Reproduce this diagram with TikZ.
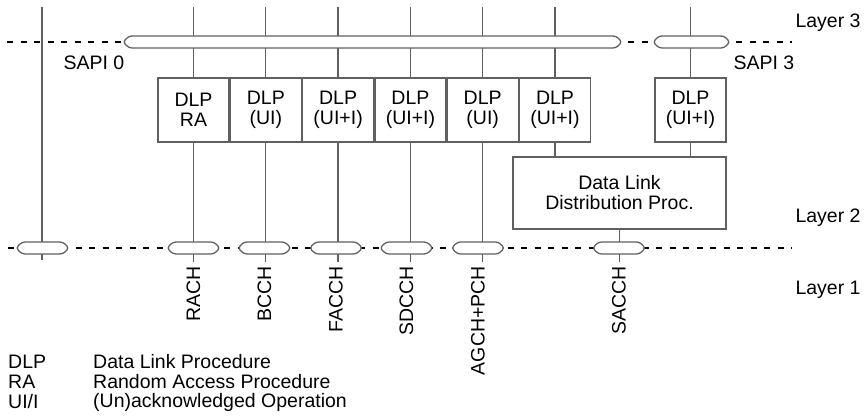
\documentclass[tikz,border=0pt]{standalone}
\usepackage{fontspec}
\setmainfont{Liberation Sans}
\usepackage{tikz}
\usetikzlibrary{positioning, calc}
\definecolor{wiregray}{HTML}{606060}

\begin{document}
\begin{tikzpicture}[x=1pt, y=-1pt, font=\fontsize{19.5}{20}\selectfont,
    wire/.style={wiregray, line width=1.3pt},
    sapline/.style={black, line width=2.2pt, dash pattern=on 6pt off 7.5pt},
    bus/.style={draw=wiregray, fill=white, line width=1.3pt, rounded corners=3pt},
    dlp/.style={draw=wiregray, line width=1.3pt, fill=white, minimum width=71pt,
      minimum height=64pt, align=center, inner sep=0pt},
    chan/.style={rotate=90, anchor=east, inner sep=4pt}]
  \useasboundingbox (0,0) rectangle (865,419);

  % Bezugspunkte
  \coordinate (topref) at (0,7);
  \coordinate (sapi0) at (7,42);
  \coordinate (sapiend) at (792,42);
  \coordinate (phy0) at (8,248);
  \coordinate (phyend) at (792,248);

  % Data-Link-Prozeduren
  \node[dlp] (d1) at (193.5,110) {DLP\\RA};
  \node[dlp, right=0pt of d1] (d2) {DLP\\(UI)};
  \node[dlp, right=0pt of d2] (d3) {DLP\\(UI+I)};
  \node[dlp, right=0pt of d3] (d4) {DLP\\(UI+I)};
  \node[dlp, right=0pt of d4] (d5) {DLP\\(UI)};
  \node[dlp, right=0pt of d5] (d6) {DLP\\(UI+I)};
  \node[dlp] (d7) at (690.5,110) {DLP\\(UI+I)};
  \node[dlp, minimum width=213pt, minimum height=72pt] (dist) at (619.5,193)
    {Data Link\\Distribution Proc.};

  % Kanaele (Layer 1)
  \foreach \n/\x/\txt in {1/193.5/RACH, 2/264.5/BCCH, 3/336/FACCH,
      4/406.5/SDCCH, 5/478/AGCH+PCH}
    \node[chan] (ch\n) at (\x,262) {\txt};
  \node[chan] (ch6) at (619,262) {SACCH};
  \coordinate (left) at (42,260);

  % Verbindungen
  \foreach \n in {1,...,7}
    \draw[wire] (d\n.north) -- (d\n.north |- topref);
  \foreach \n in {1,...,5}
    \draw[wire] (d\n.south) -- (d\n.south |- ch\n.east);
  \draw[wire] (d6.south) -- (d6.south |- dist.north);
  \draw[wire] (d7.south) -- (d7.south |- dist.north);
  \draw[wire] (dist.south) -- (dist.south |- ch6.east);
  \draw[wire] (left) -- (left |- topref);

  % SAPI-Linien
  \draw[sapline] (sapi0) -- (sapiend);
  \draw[sapline] (phy0) -- (phyend);

  % Busse
  \foreach \a/\b in {123/622, 653/730}
    \draw[bus] (\a,42) -- (\a+6,36) -- (\b-6,36) -- (\b,42) -- (\b-6,48) -- (\a+6,48) -- cycle;
  \foreach \x in {42.5, 193.5, 264.5, 336, 406.5, 478, 619}
    \draw[bus] (\x-26.5,248) -- (\x-20.5,242) -- (\x+20.5,242) -- (\x+26.5,248)
      -- (\x+20.5,254) -- (\x-20.5,254) -- cycle;

  % Beschriftungen
  \node (s0) at (94,63) {SAPI 0};
  \node[anchor=west] (s3) at (730,63) {SAPI 3};
  \node[anchor=west] (l3) at (792,23) {Layer 3};
  \node[anchor=west] (l2) at (792,218) {Layer 2};
  \node[anchor=west] (l1) at (792,290) {Layer 1};

  % Legende
  \node[anchor=west, inner sep=0pt] (abk1) at (8,362) {DLP};
  \node[anchor=west, inner sep=0pt] (abk2) at (8,382) {RA};
  \node[anchor=west, inner sep=0pt] (abk3) at (8,402) {UI/I};
  \node[anchor=west, inner sep=0pt] (leg1) at (93,362) {Data Link Procedure};
  \node[anchor=west, inner sep=0pt] (leg2) at (93,382) {Random Access Procedure};
  \node[anchor=west, inner sep=0pt] (leg3) at (93,402) {(Un)acknowledged Operation};
\end{tikzpicture}
\end{document}
